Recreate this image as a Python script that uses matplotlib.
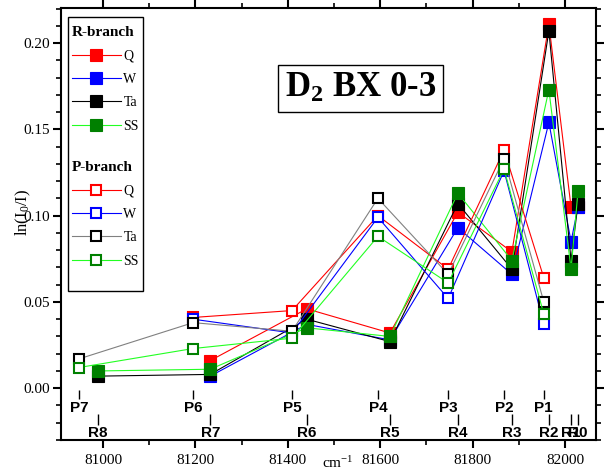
import numpy as np
import matplotlib
matplotlib.use('Agg')
import matplotlib.pyplot as plt
from matplotlib.lines import Line2D
from matplotlib.patches import Rectangle
from matplotlib.ticker import MultipleLocator

plt.rcParams['font.family'] = 'serif'
plt.rcParams['font.serif'] = ['Liberation Serif', 'DejaVu Serif']
plt.rcParams['mathtext.fontset'] = 'custom'
plt.rcParams['mathtext.rm'] = 'Liberation Serif'
plt.rcParams['mathtext.it'] = 'Liberation Serif:italic'
plt.rcParams['mathtext.bf'] = 'Liberation Serif:bold'

nan = np.nan

# D2 B-X (0-3) line positions, cm-1
p_names = ['P7', 'P6', 'P5', 'P4', 'P3', 'P2', 'P1']
p_pos = [80948, 81195, 81409, 81595, 81747, 81868, 81954]
r_names = ['R8', 'R7', 'R6', 'R5', 'R4', 'R3', 'R2', 'R1', 'R0']
r_pos = [80989, 81232, 81441, 81621, 81768, 81885, 81965, 82013, 82028]

sites = ['Q', 'W', 'Ta', 'SS']

# absorbance ln(I0/I), R-branch
r_Q = [nan, 0.016, 0.046, 0.032, 0.102, 0.079, 0.211, 0.105, 0.105]
r_W = [nan, 0.007, 0.037, 0.028, 0.093, 0.066, 0.154, 0.085, 0.105]
r_Ta = [0.007, 0.008, 0.040, 0.027, 0.107, 0.069, 0.207, 0.074, 0.107]
r_SS = [0.010, 0.011, 0.035, 0.030, 0.113, 0.074, 0.173, 0.069, 0.114]

# absorbance ln(I0/I), P-branch
p_Q = [nan, 0.041, 0.045, 0.100, 0.069, 0.138, 0.064]
p_W = [nan, 0.040, 0.032, 0.099, 0.052, 0.126, 0.037]
p_Ta = [0.017, 0.038, 0.033, 0.110, 0.066, 0.133, 0.050]
p_SS = [0.012, 0.023, 0.029, 0.088, 0.061, 0.127, 0.043]

mark_col = {'Q': 'red', 'W': 'blue', 'Ta': 'black', 'SS': '#008000'}
r_line_col = {'Q': 'red', 'W': 'blue', 'Ta': 'black', 'SS': '#22ff22'}
p_line_col = {'Q': 'red', 'W': 'blue', 'Ta': 'gray', 'SS': '#22ff22'}

W, H = 606, 475
fig = plt.figure(figsize=(W / 100, H / 100), dpi=100)
ax = fig.add_axes([61 / W, 1 - 440 / H, 535 / W, 432 / H])


def fpos(x, y):
    # pixel position -> figure fraction
    return x / W, 1 - y / H


r_handles = []
for k, vals in zip(sites, [r_Q, r_W, r_Ta, r_SS]):
    ax.plot(r_pos, vals, color=r_line_col[k], lw=0.8, marker='s', ms=8,
            mfc=mark_col[k], mec=mark_col[k], mew=0.8, zorder=3)
    r_handles.append(Line2D([], [], color=r_line_col[k], lw=0.8, marker='s', ms=8,
                            mfc=mark_col[k], mec=mark_col[k], mew=0.8))

p_handles = []
for k, vals in zip(sites, [p_Q, p_W, p_Ta, p_SS]):
    ax.plot(p_pos, vals, color=p_line_col[k], lw=0.8, marker='s', ms=7.3,
            mfc='white', mec=mark_col[k], mew=1.5, zorder=3)
    p_handles.append(Line2D([], [], color=p_line_col[k], lw=0.8, marker='s', ms=7.3,
                            mfc='white', mec=mark_col[k], mew=1.5))

# line assignment markers under the spectra
ax.vlines(p_pos, -0.0064, -0.0012, color='black', lw=1)
ax.vlines(r_pos, -0.0214, -0.0151, color='black', lw=1)
for name, x in zip(p_names, p_pos):
    ax.text(x, -0.0116, name, ha='center', va='center', fontsize=11,
            fontweight='bold', family='Liberation Sans')
for name, x in zip(r_names, r_pos):
    ax.text(x, -0.0258, name, ha='center', va='center', fontsize=11,
            fontweight='bold', family='Liberation Sans')

ax.set_xlim(80909, 82067)
ax.set_ylim(-0.030, 0.2203)
ax.xaxis.set_major_locator(MultipleLocator(200))
ax.xaxis.set_minor_locator(MultipleLocator(100))
ax.yaxis.set_major_locator(MultipleLocator(0.05))
ax.yaxis.set_minor_locator(MultipleLocator(0.01))
ax.yaxis.set_major_formatter(plt.FormatStrFormatter('%.2f'))
ax.tick_params(which='both', direction='out', top=True, right=True, labelsize=11)
ax.tick_params(which='major', length=6, width=1.5)
ax.tick_params(which='minor', length=3.5, width=1.2)
ax.tick_params(axis='y', pad=2)
ax.tick_params(axis='x', pad=4)
for s in ax.spines.values():
    s.set_linewidth(1.5)

ax.set_ylabel(r'ln(I$_0$/I)', fontsize=12)
ax.yaxis.set_label_coords(-0.053, 0.528)
ax.set_xlabel(r'cm$^{-1}$', fontsize=11)
ax.xaxis.set_label_coords(0.518, -0.035)

ax.text(0.559, 0.8137, r'$\mathbf{D_2}$ BX 0-3', transform=ax.transAxes,
        ha='center', va='center', fontsize=25, fontweight='bold',
        bbox=dict(boxstyle='square,pad=0.2', fc='white', ec='black', lw=1))

# two-part legend inside one frame
leg_kw = dict(loc='upper left', bbox_transform=fig.transFigure, frameon=False,
              borderpad=0, borderaxespad=0, handlelength=3.5, handletextpad=0.2,
              labelspacing=0.75, alignment='left', fontsize=10,
              title_fontproperties={'weight': 'bold', 'size': 11})
leg1 = ax.legend(r_handles, sites, title='R-branch', bbox_to_anchor=fpos(72, 26), **leg_kw)
leg1.set_zorder(6)
ax.add_artist(leg1)
leg2 = ax.legend(p_handles, sites, title='P-branch', bbox_to_anchor=fpos(72, 161), **leg_kw)
leg2.set_zorder(6)
x0, y0 = fpos(68, 291)
ax.add_patch(Rectangle((x0, y0), 75 / W, 274 / H, transform=fig.transFigure,
                       fc='white', ec='black', lw=1, zorder=5, clip_on=False))

fig.savefig('out.png', dpi=100)
